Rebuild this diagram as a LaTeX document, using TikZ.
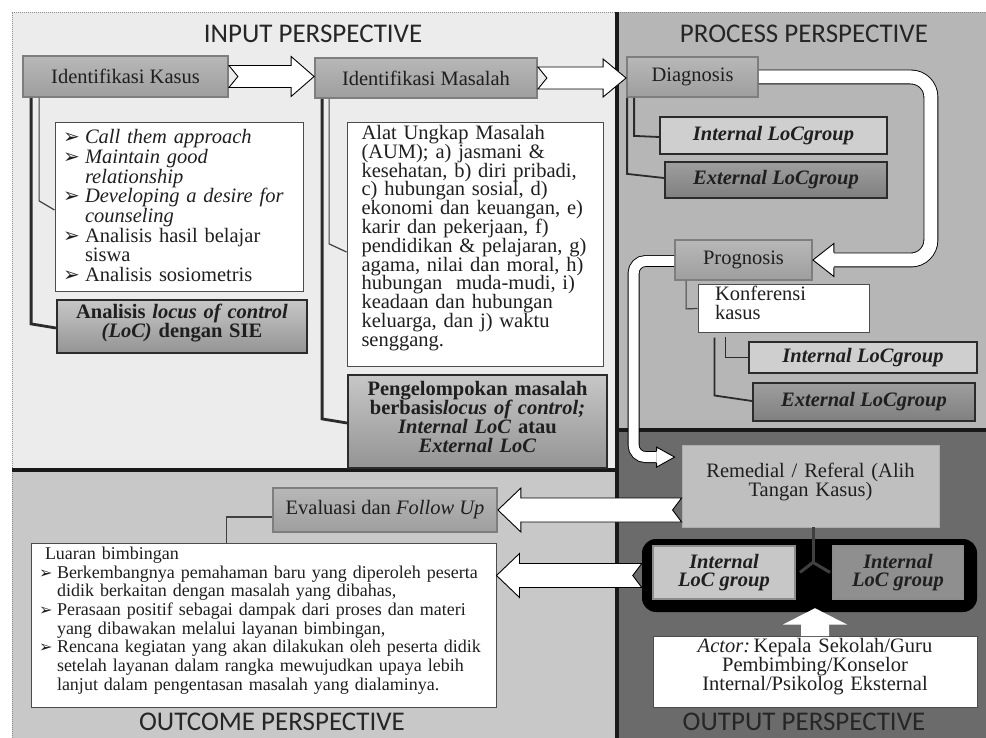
\documentclass[tikz,border=0pt]{standalone}
\usepackage{fontspec}
\setmainfont{Liberation Serif}
\newfontfamily\titlefont{Carlito}
\newfontfamily\symfont{DejaVu Sans}
\usetikzlibrary{calc}
\setlength{\parindent}{0pt}

\definecolor{inputbg}{HTML}{ECECEC}
\definecolor{processbg}{HTML}{B6B6B6}
\definecolor{outputbg}{HTML}{6B6B6B}
\definecolor{outcomebg}{HTML}{C8C8C8}
\definecolor{stepline}{HTML}{7E7E7E}
\definecolor{inkline}{HTML}{2B2B2B}

\newcommand{\bodyfont}{\fontsize{20.5}{18.8}\selectfont\lineskiplimit=-40pt\hyphenpenalty=10000\exhyphenpenalty=10000}
\newcommand{\cuefont}{\fontsize{20.5}{19.7}\selectfont\lineskiplimit=-40pt\hyphenpenalty=10000\exhyphenpenalty=10000}
\newcommand{\smallfont}{\fontsize{18}{18.7}\selectfont\lineskiplimit=-40pt\hyphenpenalty=10000\exhyphenpenalty=10000}
\newcommand{\bul}[2]{\par\hangindent=#1\hangafter=1\noindent\makebox[#1][l]{\smash{\symfont\fontsize{#2}{#2}\selectfont ➢}}}

% white block arrow with a notched tail, #3 body half, #4 head half
\newcommand{\fatarrow}[4]{%
  \coordinate (fa-s) at (#1);
  \coordinate (fa-t) at (#2);
  \coordinate (fa-b) at ($(fa-t)!23pt!(fa-s)$);
  \coordinate (fa-n) at ($(fa-s)!9pt!(fa-t)$);
  \filldraw[hollow] ($(fa-s)+(0,-#3)$) -- ($(fa-b)+(0,-#3)$) -- ($(fa-b)+(0,-#4)$) -- (fa-t)
    -- ($(fa-b)+(0,#4)$) -- ($(fa-b)+(0,#3)$) -- ($(fa-s)+(0,#3)$) -- (fa-n) -- cycle;}
% head for the bent arrows
\newcommand{\tiphead}[4]{%
  \fill[white] (#1) -- ($(#2)+(0,#3)$) -- ($(#2)+(0,-#3)$) -- cycle;
  \draw[arrowline] ($(#2)+(0,#4)$) -- ($(#2)+(0,#3)$) -- (#1) -- ($(#2)+(0,-#3)$) -- ($(#2)+(0,-#4)$);}

\tikzset{
  every node/.style={font=\bodyfont, text=black!88},
  title/.style={font=\titlefont\fontsize{27}{27}\selectfont, text=black!85, inner sep=0pt},
  stepbox/.style={draw=stepline, line width=1.8pt, top color=black!28, bottom color=black!38, inner sep=0pt},
  notebox/.style={draw=black!70, line width=1pt, fill=white, inner ysep=0pt},
  lockbox/.style={draw=inkline, line width=2.2pt, top color=black!22, bottom color=black!42,
    inner sep=0pt, align=center, font=\bodyfont\bfseries},
  intbox/.style={draw=inkline, line width=2pt, fill=black!19, inner sep=0pt, font=\bodyfont\bfseries\itshape},
  extbox/.style={draw=inkline, line width=2pt, top color=black!38, bottom color=black!50, inner sep=0pt,
    font=\bodyfont\bfseries\itshape},
  groupbox/.style={draw=black!45, line width=1.6pt, inner sep=0pt, align=center, font=\bodyfont\bfseries\itshape},
  thinlink/.style={draw=black!75, line width=1.2pt},
  midlink/.style={draw=inkline, line width=1.8pt},
  thicklink/.style={draw=inkline, line width=2.8pt},
  forkline/.style={draw=black!75, line width=3pt},
  hollow/.style={fill=white, draw=black, line width=0.9pt},
  arrowline/.style={draw=black, line width=0.9pt},
  uturn/.style={draw=black, line width=0.9pt, double=white, double distance=13pt, rounded corners=20pt},
  bent/.style={draw=black, line width=0.9pt, double=white, double distance=10pt, rounded corners=12pt},
  divider/.style={draw=black!90, line width=3.5pt}
}

\begin{document}
\begin{tikzpicture}[x=1pt, y=-1pt]
\useasboundingbox (0,0) rectangle (986,738);

% panels
\fill[inputbg] (12,12) rectangle (617,470);
\fill[processbg] (617,12) rectangle (986,430);
\fill[outputbg] (617,430) rectangle (986,738);
\fill[outcomebg] (12,470) rectangle (617,738);
\draw[black!45, line width=0.8pt, dash pattern=on 1pt off 1pt] (12,738) -- (12,12) -- (986,12);
\draw[divider] (617,12) -- (617,738);
\draw[divider] (12,470) -- (617,470);
\draw[divider] (617,430) -- (986,430);

\node[title] (tinput) at (313,34) {INPUT PERSPECTIVE};
\node[title] (tprocess) at (804,34) {PROCESS PERSPECTIVE};
\node[title] (toutcome) at (272,722) {OUTCOME PERSPECTIVE};
\node[title] (toutput) at (804,722) {OUTPUT PERSPECTIVE};

% input perspective
\node[stepbox, minimum width=205pt, minimum height=41pt] (kasus) at (125.5,76.5) {Identifikasi Kasus};
\node[stepbox, minimum width=222pt, minimum height=40pt] (masalah) at (426,78) {Identifikasi Masalah};
\node[notebox, font=\cuefont, align=left, text width=232pt, inner xsep=8pt, minimum height=169pt] (cues) at (179,207.5)
 {\bul{22pt}{20}\textit{Call them approach}
  \bul{22pt}{20}\textit{Maintain good}\newline\textit{relationship}
  \bul{22pt}{20}\textit{Developing a desire for}\newline\textit{counseling}
  \bul{22pt}{20}Analisis hasil belajar\newline siswa
  \bul{22pt}{20}Analisis sosiometris\par\vspace{9pt}};
\node[lockbox, text width=250pt, minimum height=53pt] (locsie) at (182,326.5)
 {Analisis \textit{locus of control}\\\textit{(LoC)} dengan SIE\par\vspace{7pt}};
\node[notebox, align=left, text width=227pt, inner xsep=14.5pt, minimum height=243pt] (aum) at (475,244.5)
 {Alat Ungkap Masalah\newline (AUM); a) jasmani \&\newline kesehatan, b) diri pribadi,\newline
  c) hubungan sosial, d)\newline ekonomi dan keuangan, e)\newline karir dan pekerjaan, f)\newline
  pendidikan \& pelajaran, g)\newline agama, nilai dan moral, h)\newline hubungan\ \ muda-mudi, i)\newline
  keadaan dan hubungan\newline keluarga, dan j) waktu\newline senggang.\par\vspace{13pt}};
\node[lockbox, text width=259pt, minimum height=93pt] (grouping) at (477.5,421.5)
 {Pengelompokan masalah\\berbasis\textit{locus of control;}\\\textit{Internal LoC} atau\\\textit{External LoC}\par\vspace{9pt}};

% process perspective
\node[stepbox, minimum width=131pt, minimum height=40pt] (diagnosis) at (692.5,77) {Diagnosis};
\node[intbox, minimum width=227pt, minimum height=37pt] (intA) at (773.5,135.5) {Internal LoCgroup};
\node[extbox, minimum width=222pt, minimum height=36pt] (extA) at (776,180) {External LoCgroup};
\node[stepbox, minimum width=137pt, minimum height=40pt] (prognosis) at (743.5,260) {Prognosis};
\node[notebox, align=left, text width=137pt, inner xsep=17pt, minimum height=47pt] (konf) at (783.5,308.5)
 {Konferensi\newline kasus\par\vspace{11pt}};
\node[intbox, minimum width=228pt, minimum height=31pt] (intB) at (863,357.5) {Internal LoCgroup};
\node[extbox, minimum width=222pt, minimum height=38pt] (extB) at (864,402) {External LoCgroup};

% output perspective
\node[fill=black!25, draw=black!32, line width=0.8pt, align=center, text width=257pt, inner sep=0pt,
  minimum height=82pt] (remedial) at (810.5,486) {Remedial / Referal (Alih\\Tangan Kasus)\par\vspace{8.5pt}};
\node[fill=black, rounded corners=14pt, minimum width=335pt, minimum height=73pt] (container) at (809.5,575.5) {};
\node[groupbox, fill=black!22, minimum width=142pt, minimum height=53pt] (grpL) at (724,572.5) {Internal\\LoC group};
\node[groupbox, fill=black!44, minimum width=130pt, minimum height=53pt] (grpR) at (898,572.5) {Internal\\LoC group};
\node[notebox, align=center, text width=324pt, inner xsep=0pt, minimum height=71pt] (actor) at (815,671.5)
 {\textit{Actor:}\,Kepala Sekolah/Guru\\Pembimbing/Konselor\\Internal/Psikolog Eksternal\par\vspace{10pt}};

% outcome perspective
\node[stepbox, minimum width=224pt, minimum height=44pt] (evaluasi) at (385,510) {Evaluasi dan \textit{Follow Up}};
\node[notebox, font=\smallfont, align=left, text width=449pt, inner xsep=8pt, minimum height=164pt] (luaran) at (263.5,625)
 {\hspace*{6pt}Luaran bimbingan
  \bul{18pt}{16}Berkembangnya pemahaman baru yang diperoleh peserta\newline didik berkaitan dengan masalah yang dibahas,
  \bul{18pt}{16}Perasaan positif sebagai dampak dari proses dan materi\newline yang dibawakan melalui layanan bimbingan,
  \bul{18pt}{16}Rencana kegiatan yang akan dilakukan oleh peserta didik\newline setelah layanan dalam rangka mewujudkan upaya lebih\newline lanjut dalam pengentasan masalah yang dialaminya.\par\vspace{9pt}};

% links
\draw[thinlink] ($(kasus.south west)+(17,0)$) -- ++(0,103) -- ($(cues.west)+(0,2.5)$);
\draw[thicklink] ($(kasus.south west)+(9,0)$) -- ++(0,226) -- ($(locsie.west)+(0,1.5)$);
\draw[thinlink] ($(masalah.south west)+(15,0)$) -- ++(0,145) -- ($(aum.west)+(0,7.5)$);
\draw[thicklink] ($(masalah.south west)+(8,0)$) -- ++(0,320) -- ($(grouping.west)+(0,1.5)$);
\draw[midlink] ($(diagnosis.south west)+(8,0)$) -- ++(0,38) -- ($(intA.west)+(0,1.5)$);
\draw[midlink] ($(diagnosis.south west)+(1,0)$) -- ++(0,76) -- ($(extA.west)+(0,-2)$);
\draw[thinlink] ($(prognosis.south west)+(12,0)$) -- ++(0,28) -- (konf.west);
\draw[midlink] ($(konf.south west)+(28,4)$) -- ++(0,21) -- (intB.west);
\draw[midlink] ($(konf.south west)+(17,5)$) -- ++(0,58) -- ($(extB.west)+(0,-1)$);
\draw[thinlink] ($(evaluasi.west)+(0,7)$) -| ($(luaran.north west)+(196,0)$);

\coordinate (fork) at ($(remedial.south)+(2.5,35)$);
\draw[forkline] (remedial.south -| fork) -- (fork);
\draw[forkline] ($(fork)+(-13,10)$) -- (fork) -- ($(fork)+(17,10)$);

% arrows
\fatarrow{kasus.east}{masalah.west |- kasus.east}{11}{20}
\fatarrow{masalah.east}{diagnosis.west |- masalah.east}{11}{19}
\fatarrow{remedial.west |- evaluasi.east}{evaluasi.east}{12}{22}
\fatarrow{container.west}{luaran.east |- container.west}{12}{22}

\coordinate (ubase) at ($(prognosis.east)+(21,0)$);
\draw[uturn] (diagnosis.east) -- ++(172,0) |- (ubase);
\tiphead{prognosis.east}{ubase}{16.5}{7.4}

\coordinate (rtip) at ($(remedial.north west)+(-7,12.5)$);
\coordinate (rbase) at ($(rtip)+(-18,0)$);
\draw[bent] ($(prognosis.west)+(0,1)$) -- ++(-40.5,0) |- (rbase);
\tiphead{rtip}{rbase}{10}{5.9}

\coordinate (uptip) at ($(actor.north |- container.south)+(0,-4)$);
\coordinate (upbase) at ($(actor.north)+(0,-11)$);
\fill[white] ($(actor.north)+(-14,0.5)$) -- ($(upbase)+(-14,0)$) -- ($(upbase)+(-32,0)$) -- (uptip)
  -- ($(upbase)+(32,0)$) -- ($(upbase)+(14,0)$) -- ($(actor.north)+(14,0.5)$) -- cycle;
\end{tikzpicture}
\end{document}
